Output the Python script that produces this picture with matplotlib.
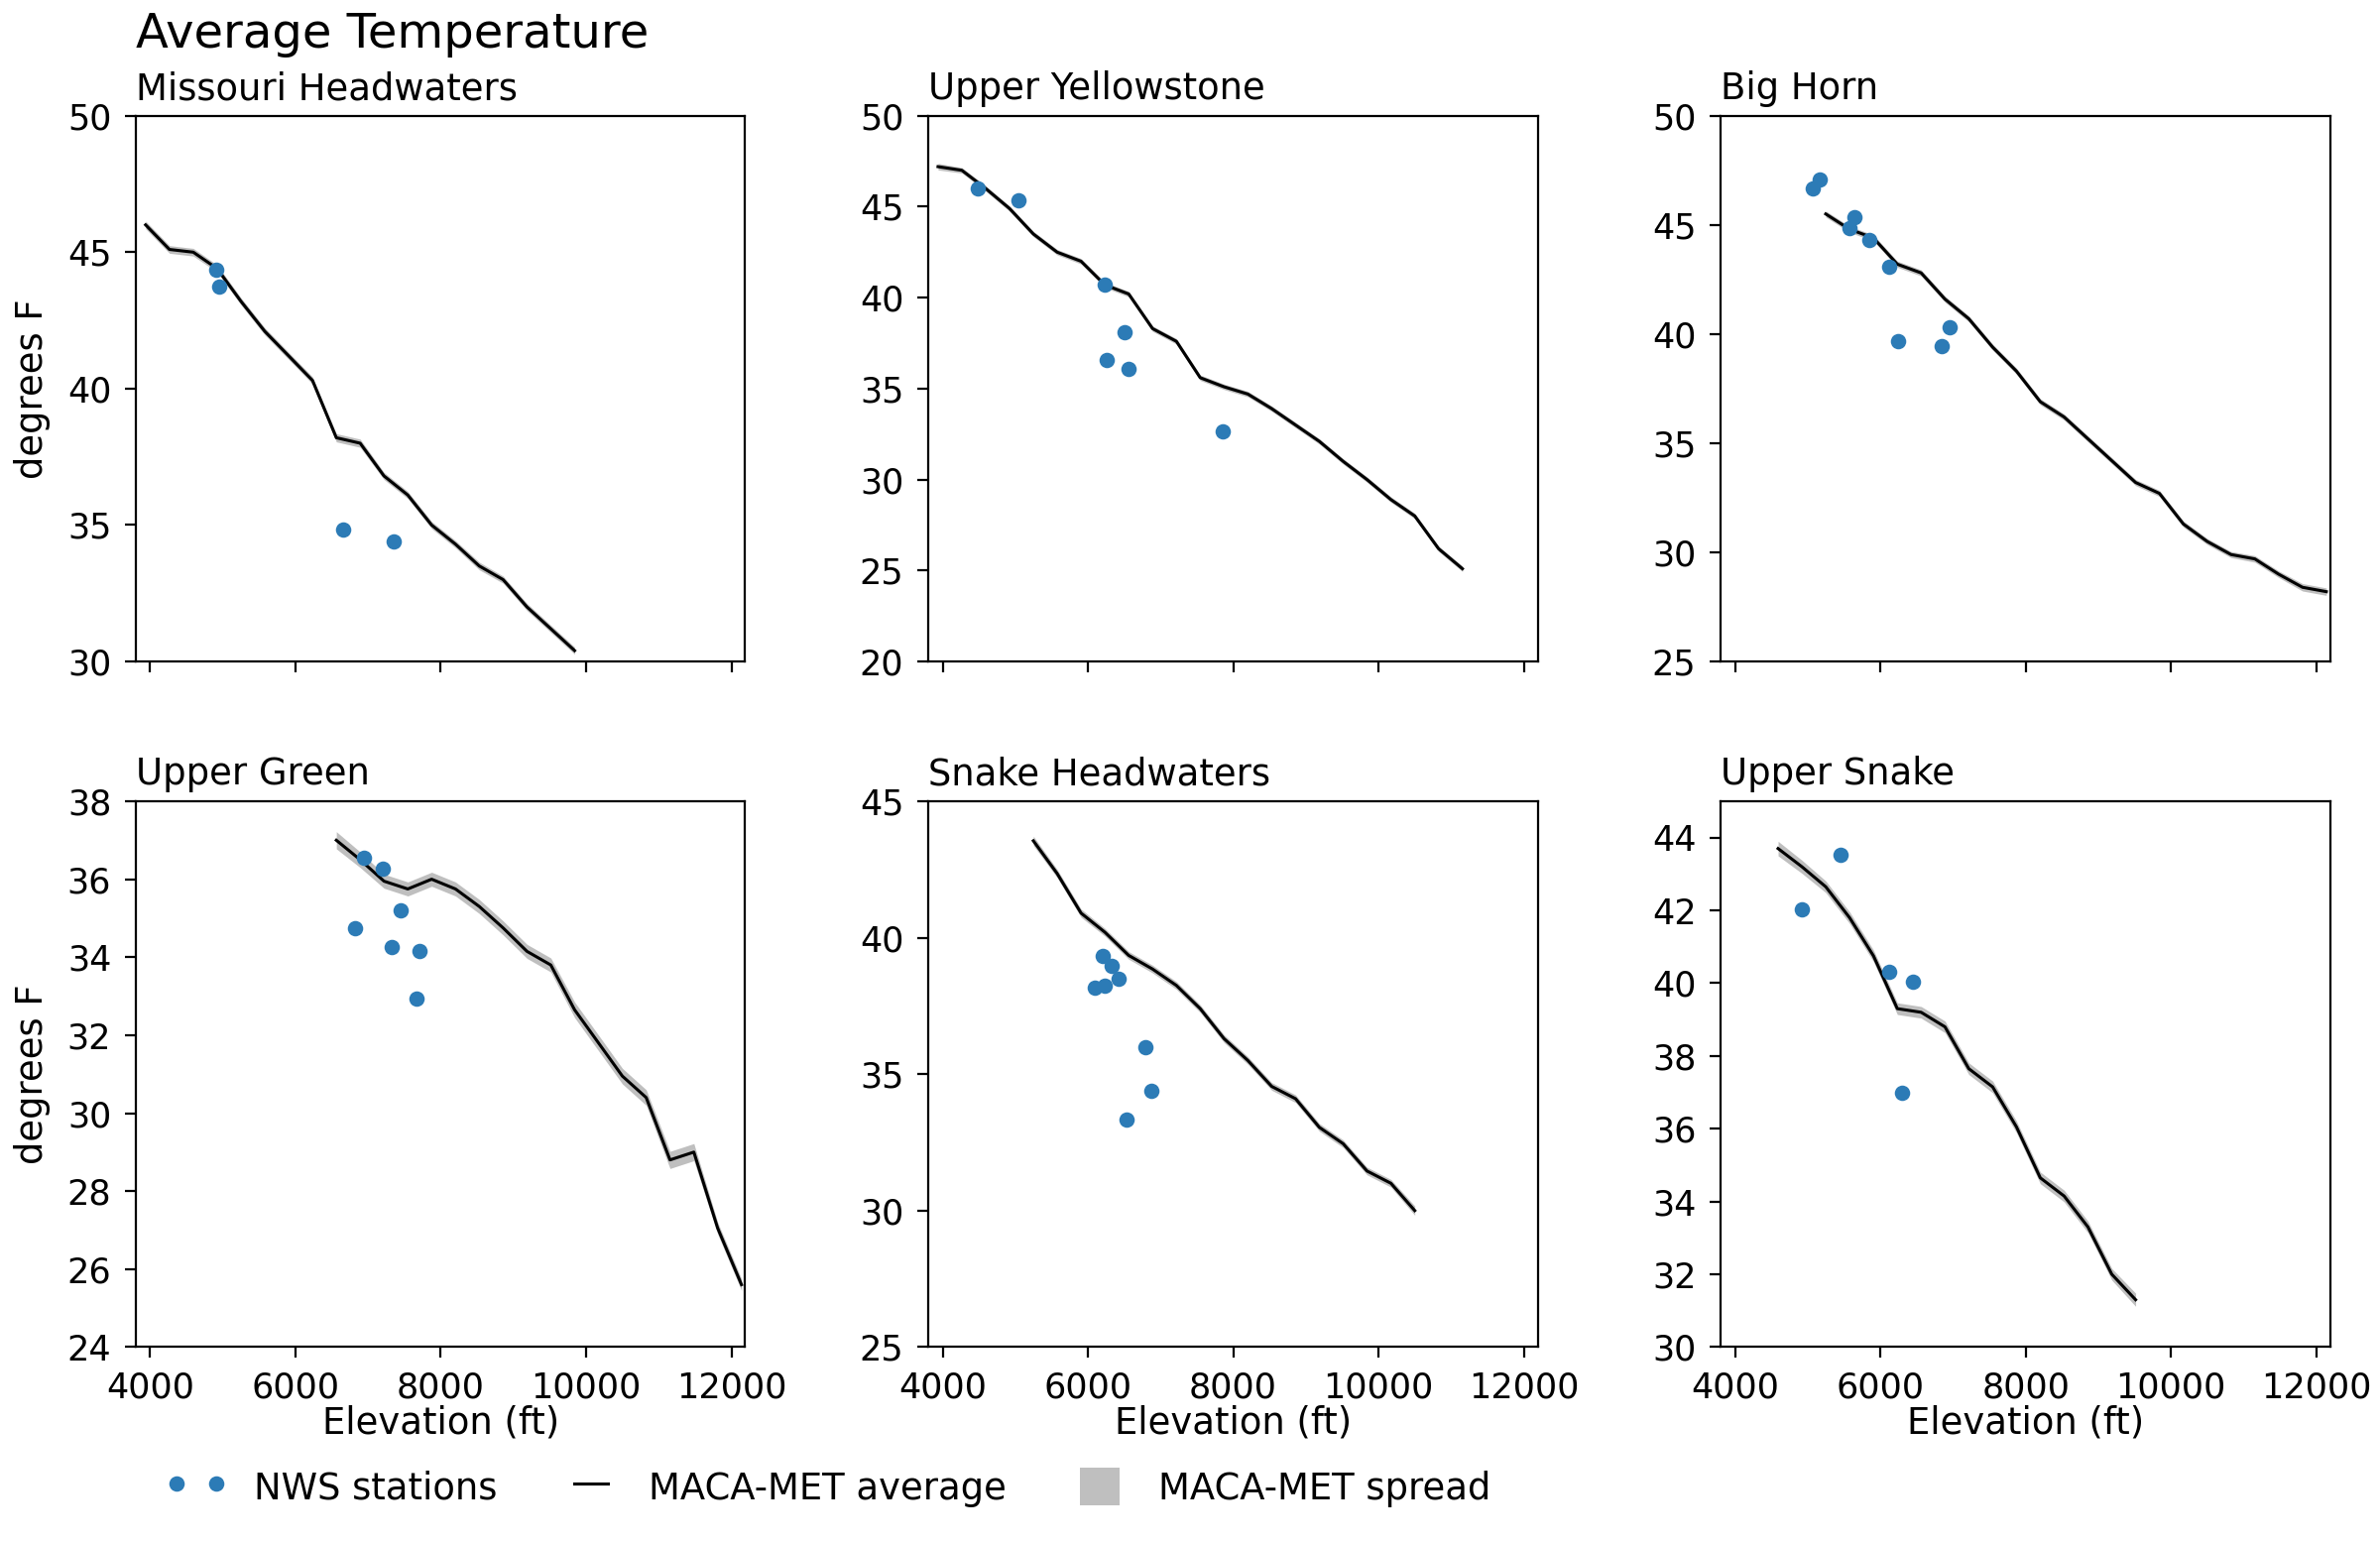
import matplotlib
matplotlib.use('Agg')
import matplotlib.pyplot as plt
from matplotlib.patches import Patch
from matplotlib.lines import Line2D
from matplotlib.legend_handler import HandlerLine2D

# ---- data ----
basins = ['Missouri Headwaters', 'Upper Yellowstone', 'Big Horn',
          'Upper Green', 'Snake Headwaters', 'Upper Snake']

# Missouri Headwaters
mh_elev = [3937, 4265, 4593, 4921, 5249, 5577, 5906, 6234, 6562, 6890,
           7218, 7546, 7874, 8202, 8530, 8858, 9186, 9514, 9842]
mh_avg = [46.0, 45.1, 45.0, 44.4, 43.2, 42.1, 41.2, 40.3, 38.2, 38.0,
          36.8, 36.1, 35.0, 34.3, 33.5, 33.0, 32.0, 31.2, 30.4]
mh_spread = [0.14, 0.14, 0.14, 0.13, 0.13, 0.13, 0.13, 0.13, 0.15, 0.15,
             0.13, 0.13, 0.13, 0.13, 0.14, 0.13, 0.13, 0.13, 0.13]
mh_stn_elev = [4915, 4950, 6661, 7351]
mh_stn_temp = [44.35, 43.73, 34.85, 34.41]

# Upper Yellowstone
uy_elev = [3937, 4265, 4593, 4921, 5249, 5577, 5906, 6234, 6562, 6890,
           7218, 7546, 7874, 8202, 8530, 8858, 9186, 9514, 9842, 10171,
           10499, 10827, 11155]
uy_avg = [47.2, 47.0, 46.0, 44.9, 43.5, 42.5, 42.0, 40.7, 40.2, 38.3,
          37.6, 35.6, 35.1, 34.7, 33.9, 33.0, 32.1, 31.0, 30.0, 28.9,
          28.0, 26.2, 25.1]
uy_spread = [0.18, 0.15, 0.15, 0.15, 0.15, 0.15, 0.15, 0.15, 0.15, 0.15,
             0.15, 0.15, 0.15, 0.15, 0.15, 0.15, 0.15, 0.15, 0.15, 0.15,
             0.15, 0.15, 0.15]
uy_stn_elev = [4479, 5042, 6225, 6499, 6253, 6556, 7858]
uy_stn_temp = [45.99, 45.33, 40.71, 38.09, 36.60, 36.06, 32.64]

# Big Horn
bh_elev = [5249, 5577, 5906, 6234, 6562, 6890, 7218, 7546, 7874, 8202,
           8530, 8858, 9186, 9514, 9842, 10171, 10499, 10827, 11155, 11483,
           11811, 12139]
bh_avg = [45.5, 44.8, 44.4, 43.2, 42.8, 41.6, 40.7, 39.4, 38.3, 36.9,
          36.2, 35.2, 34.2, 33.2, 32.7, 31.3, 30.5, 29.9, 29.7, 29.0,
          28.4, 28.2]
bh_spread = [0.14, 0.14, 0.14, 0.14, 0.14, 0.14, 0.14, 0.14, 0.14, 0.14,
             0.14, 0.14, 0.14, 0.14, 0.14, 0.14, 0.14, 0.14, 0.15, 0.15,
             0.17, 0.17]
bh_stn_elev = [5077, 5162, 5570, 5640, 5844, 6126, 6239, 6851, 6957]
bh_stn_temp = [46.66, 47.07, 44.87, 45.34, 44.30, 43.08, 39.67, 39.47, 40.29]

# Upper Green
ug_elev = [6562, 6890, 7218, 7546, 7874, 8202, 8530, 8858, 9186, 9514,
           9842, 10171, 10499, 10827, 11155, 11483, 11811, 12139]
ug_avg = [37.0, 36.5, 35.95, 35.75, 36.0, 35.75, 35.3, 34.75, 34.15, 33.8,
          32.65, 31.8, 30.95, 30.4, 28.8, 29.0, 27.05, 25.6]
ug_spread = [0.22, 0.2, 0.18, 0.18, 0.18, 0.18, 0.18, 0.18, 0.18, 0.18,
             0.2, 0.2, 0.2, 0.2, 0.22, 0.22, 0.15, 0.15]
ug_stn_elev = [6943, 7203, 6823, 7450, 7330, 7703, 7661]
ug_stn_temp = [36.54, 36.26, 34.75, 35.19, 34.27, 34.17, 32.94]

# Snake Headwaters
sh_elev = [5249, 5577, 5906, 6234, 6562, 6890, 7218, 7546, 7874, 8202,
           8530, 8858, 9186, 9514, 9842, 10171, 10499]
sh_avg = [43.55, 42.35, 40.9, 40.2, 39.35, 38.85, 38.25, 37.4, 36.3, 35.5,
          34.55, 34.1, 33.05, 32.45, 31.45, 31.0, 30.0]
sh_spread = [0.17, 0.15, 0.15, 0.14, 0.14, 0.14, 0.14, 0.14, 0.14, 0.14,
             0.14, 0.14, 0.14, 0.14, 0.14, 0.14, 0.17]
sh_stn_elev = [6204, 6330, 6422, 6098, 6225, 6788, 6872, 6534]
sh_stn_temp = [39.33, 38.97, 38.49, 38.17, 38.23, 35.99, 34.39, 33.32]

# Upper Snake
us_elev = [4593, 4921, 5249, 5577, 5906, 6234, 6562, 6890, 7218, 7546,
           7874, 8202, 8530, 8858, 9186, 9514]
us_avg = [43.7, 43.2, 42.65, 41.8, 40.75, 39.3, 39.2, 38.8, 37.65, 37.15,
          36.05, 34.65, 34.15, 33.3, 32.0, 31.3]
us_spread = [0.2, 0.18, 0.16, 0.16, 0.16, 0.16, 0.16, 0.16, 0.16, 0.16,
             0.16, 0.16, 0.16, 0.16, 0.16, 0.18]
us_stn_elev = [5457, 4915, 6126, 6443, 6302]
us_stn_temp = [43.54, 42.04, 40.30, 40.03, 36.99]

ylims = [(30, 50), (20, 50), (25, 50), (24, 38), (25, 45), (30, 45)]
yticks = [range(30, 51, 5), range(20, 51, 5), range(25, 51, 5),
          range(24, 39, 2), range(25, 46, 5), range(30, 45, 2)]
xticks = [4000, 6000, 8000, 10000, 12000]

panels = [
    (mh_elev, mh_avg, mh_spread, mh_stn_elev, mh_stn_temp),
    (uy_elev, uy_avg, uy_spread, uy_stn_elev, uy_stn_temp),
    (bh_elev, bh_avg, bh_spread, bh_stn_elev, bh_stn_temp),
    (ug_elev, ug_avg, ug_spread, ug_stn_elev, ug_stn_temp),
    (sh_elev, sh_avg, sh_spread, sh_stn_elev, sh_stn_temp),
    (us_elev, us_avg, us_spread, us_stn_elev, us_stn_temp),
]

stn_color = '#2c7bb6'
band_color = '#bfbfbf'

fig, axes = plt.subplots(2, 3, figsize=(12, 7.78), dpi=200, sharex=True)
fig.subplots_adjust(left=0.057, right=0.979, top=0.925, bottom=0.127,
                    wspace=0.30, hspace=0.256)

for i, ax in enumerate(axes.flat):
    elev, avg, spread, s_elev, s_temp = panels[i]
    lo = [a - s for a, s in zip(avg, spread)]
    hi = [a + s for a, s in zip(avg, spread)]
    ax.fill_between(elev, lo, hi, color=band_color, linewidth=0, zorder=1)
    ax.plot(elev, avg, color='black', linewidth=1.1, zorder=2)
    ax.plot(s_elev, s_temp, 'o', color=stn_color, markersize=5.6,
            markeredgewidth=0, zorder=3)
    ax.set_xlim(3800, 12190)
    ax.set_ylim(*ylims[i])
    ax.set_yticks(list(yticks[i]))
    ax.set_xticks(xticks)
    ax.tick_params(labelsize=12.6, pad=5, length=3.8)
    ax.set_title(basins[i], loc='left', fontsize=13.3, pad=6)
    if i % 3 == 0:
        ax.set_ylabel('degrees F', fontsize=13.3, labelpad=6)
    if i >= 3:
        ax.set_xlabel('Elevation (ft)', fontsize=13.3, labelpad=0)

fig.text(0.057, 0.969, 'Average Temperature', fontsize=17.3, ha='left', va='baseline')

handles = [
    Line2D([], [], marker='o', linestyle='none', color=stn_color,
           markersize=5.6, markeredgewidth=0),
    Line2D([], [], color='black', linewidth=1.1),
    Patch(facecolor=band_color, edgecolor='none'),
]
labels = ['NWS stations', 'MACA-MET average', 'MACA-MET spread']
fig.legend(handles, labels, loc='center left', bbox_to_anchor=(0.074, 0.036),
           ncol=3, frameon=False, fontsize=13.3, numpoints=2,
           handlelength=1.08, handleheight=1.17, handletextpad=1.05,
           columnspacing=2.0, borderpad=0, borderaxespad=0,
           handler_map={handles[0]: HandlerLine2D(numpoints=2, marker_pad=0),
                        handles[1]: HandlerLine2D(numpoints=2, marker_pad=0.08)})

fig.savefig('out.png', dpi=200)
